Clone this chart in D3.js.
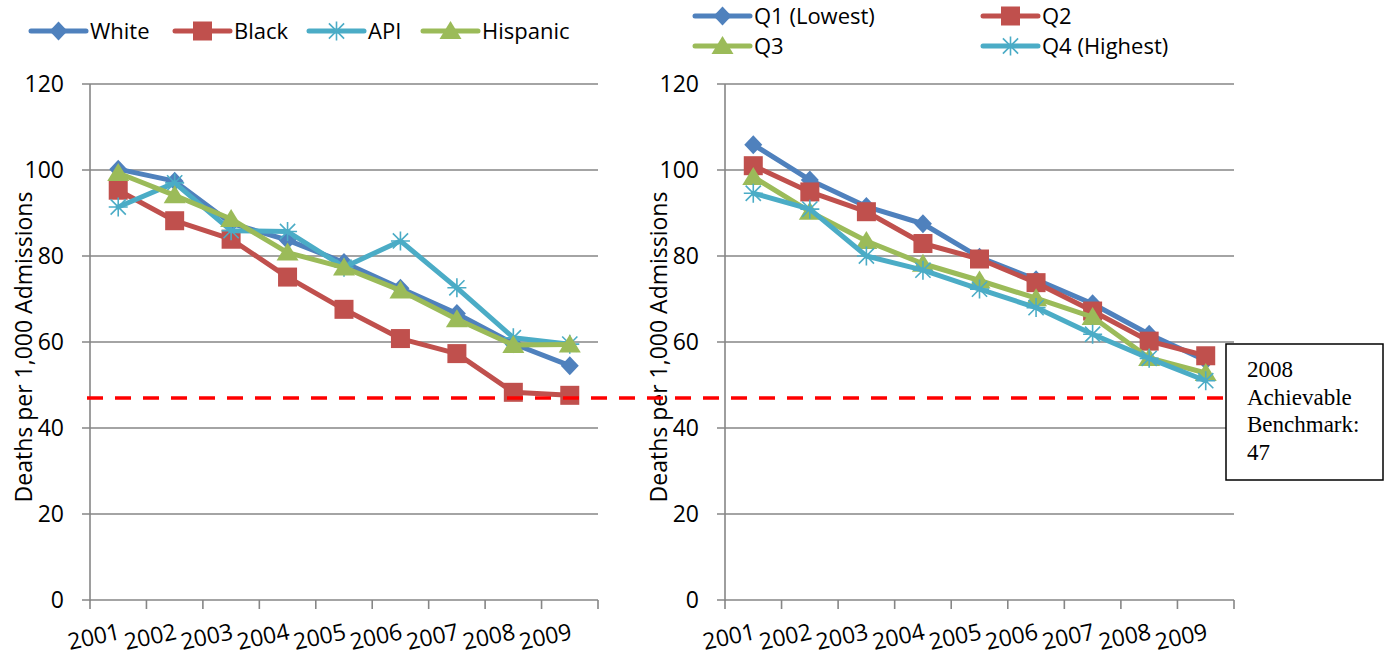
<!DOCTYPE html>
<html>
<head>
<meta charset="utf-8">
<script src="https://cdn.jsdelivr.net/npm/d3@7"></script>
<style>
  body { margin: 0; background: #fff; }
  svg { display: block; font-family: "Open Sans", sans-serif; }
</style>
</head>
<body>
<svg id="chart" width="1388" height="657"></svg>
<script>
// ---- data ----
const years = ["2001", "2002", "2003", "2004", "2005", "2006", "2007", "2008", "2009"];
const yTicks = [0, 20, 40, 60, 80, 100, 120];

const raceNames = ["White", "Black", "API", "Hispanic"];
const white    = [100.2, 97.4, 87.6, 83.7, 78.5, 72.5, 66.6, 59.6, 54.5];
const black    = [95.3, 88.2, 83.9, 75.1, 67.6, 60.8, 57.3, 48.3, 47.6];
const api      = [91.4, 97.0, 85.9, 85.7, 77.4, 83.5, 72.6, 61.0, 59.5];
const hispanic = [99.3, 94.1, 88.6, 80.8, 77.3, 72.0, 65.3, 59.3, 59.4];

const quartileNames = ["Q1 (Lowest)", "Q2", "Q3", "Q4 (Highest)"];
const q1 = [105.9, 97.7, 91.5, 87.5, 79.7, 74.5, 68.9, 61.8, 55.7];
const q2 = [101.0, 94.9, 90.3, 82.9, 79.3, 73.8, 67.2, 60.2, 56.8];
const q3 = [98.4, 90.3, 83.5, 78.2, 74.3, 70.2, 65.8, 56.3, 52.8];
const q4 = [94.6, 90.9, 80.0, 76.7, 72.3, 68.0, 61.8, 56.2, 51.0];

const benchmark = 47;
const benchmarkLines = ["2008", "Achievable", "Benchmark:", String(benchmark)];
const yTitle = "Deaths per 1,000 Admissions";

// ---- styling ----
const BLUE = "#4F81BD", RED = "#C0504D", AQUA = "#4BACC6", GREEN = "#9BBB59";
const GRID = "#868686";

const svg = d3.select("#chart");

const y = d3.scaleLinear().domain([0, 120]).range([600, 84]);

function marker(g, type, color) {
  if (type === "diamond") {
    g.append("path").attr("d", "M0,-9.5L9,0L0,9.5L-9,0Z").attr("fill", color);
  } else if (type === "square") {
    g.append("rect").attr("x", -9.5).attr("y", -9.5).attr("width", 19).attr("height", 19).attr("fill", color);
  } else if (type === "triangle") {
    g.append("path").attr("d", "M0,-10L11,8L-11,8Z").attr("fill", color);
  } else if (type === "star") {
    const s = 9.5;
    g.append("path")
      .attr("d", `M0,${-s}V${s}M${-s * 0.8},${-s * 0.8}L${s * 0.8},${s * 0.8}M${s * 0.8},${-s * 0.8}L${-s * 0.8},${s * 0.8}M${-s},0H${s}`)
      .attr("stroke", color).attr("stroke-width", 1.6).attr("fill", "none");
  }
}

function panel(x0, x1, series) {
  const x = d3.scaleBand().domain(years).range([x0, x1]).padding(0);
  const g = svg.append("g");

  // horizontal gridlines with outward ticks
  g.selectAll("line.grid").data(yTicks).join("line")
    .attr("x1", x0 - 8).attr("x2", x1)
    .attr("y1", d => y(d)).attr("y2", d => y(d))
    .attr("stroke", GRID).attr("stroke-width", 1.6);

  // vertical axis
  g.append("line").attr("x1", x0).attr("x2", x0).attr("y1", y(120)).attr("y2", y(0) + 1)
    .attr("stroke", GRID).attr("stroke-width", 1.6);

  // category tick marks
  const bounds = years.map(d => x(d)).concat([x1]);
  g.selectAll("line.xt").data(bounds).join("line")
    .attr("x1", d => d).attr("x2", d => d)
    .attr("y1", y(0)).attr("y2", y(0) + 9)
    .attr("stroke", GRID).attr("stroke-width", 1.6);

  // y tick labels
  g.selectAll("text.yl").data(yTicks).join("text")
    .attr("x", x0 - 26).attr("y", d => y(d)).attr("dy", "0.36em")
    .attr("text-anchor", "end").attr("font-size", 23).attr("fill", "#000")
    .text(d => d);

  // x tick labels, slightly rotated
  g.selectAll("text.xl").data(years).join("text")
    .attr("transform", d => `translate(${x(d) + x.bandwidth() / 2 + 3},639) rotate(-12)`)
    .attr("text-anchor", "end").attr("font-size", 23).attr("fill", "#000")
    .text(d => d);

  // y axis title
  g.append("text")
    .attr("transform", `translate(${x0 - 58},${(y(0) + y(120)) / 2 + 5}) rotate(-90)`)
    .attr("text-anchor", "middle").attr("font-size", 23).attr("fill", "#000")
    .text(yTitle);

  const line = d3.line().x((d, i) => x(years[i]) + x.bandwidth() / 2).y(d => y(d));

  series.forEach(s => {
    g.append("path").datum(s.values).attr("d", line)
      .attr("fill", "none").attr("stroke", s.color).attr("stroke-width", 5)
      .attr("stroke-linejoin", "round").attr("stroke-linecap", "round");
    s.values.forEach((v, i) => {
      const m = g.append("g").attr("transform", `translate(${x(years[i]) + x.bandwidth() / 2},${y(v)})`);
      marker(m, s.marker, s.color);
    });
  });
  return x;
}

function legendItem(lx, ly, s) {
  const g = svg.append("g");
  g.append("line").attr("x1", lx).attr("x2", lx + 55).attr("y1", ly).attr("y2", ly)
    .attr("stroke", s.color).attr("stroke-width", 5).attr("stroke-linecap", "round");
  const m = g.append("g").attr("transform", `translate(${lx + 27.5},${ly})`);
  marker(m, s.marker, s.color);
  g.append("text").attr("x", lx + 59).attr("y", ly).attr("dy", "0.36em")
    .attr("font-size", 22).attr("fill", "#000").text(s.name);
}

const raceSeries = [
  { name: raceNames[0], values: white, color: BLUE, marker: "diamond" },
  { name: raceNames[1], values: black, color: RED, marker: "square" },
  { name: raceNames[2], values: api, color: AQUA, marker: "star" },
  { name: raceNames[3], values: hispanic, color: GREEN, marker: "triangle" }
];
const quartileSeries = [
  { name: quartileNames[0], values: q1, color: BLUE, marker: "diamond" },
  { name: quartileNames[1], values: q2, color: RED, marker: "square" },
  { name: quartileNames[2], values: q3, color: GREEN, marker: "triangle" },
  { name: quartileNames[3], values: q4, color: AQUA, marker: "star" }
];

panel(90, 598, raceSeries);
panel(725, 1234, quartileSeries);

// legends
[31, 175, 309, 423].forEach((lx, i) => legendItem(lx, 31, raceSeries[i]));
legendItem(695, 16, quartileSeries[0]);
legendItem(983, 16, quartileSeries[1]);
legendItem(695, 46, quartileSeries[2]);
legendItem(983, 46, quartileSeries[3]);

// benchmark reference line across both panels
svg.append("line")
  .attr("x1", 87).attr("x2", 1226)
  .attr("y1", y(benchmark)).attr("y2", y(benchmark))
  .attr("stroke", "#FF0000").attr("stroke-width", 3.5)
  .attr("stroke-dasharray", "16,12");

// benchmark note box
const box = svg.append("g");
box.append("rect").attr("x", 1226).attr("y", 344).attr("width", 157).attr("height", 136)
  .attr("fill", "#fff").attr("stroke", "#000").attr("stroke-width", 1.5);
box.selectAll("text").data(benchmarkLines).join("text")
  .attr("x", 1247).attr("y", (d, i) => 377 + i * 27.5)
  .attr("font-family", "'Liberation Serif', 'Times New Roman', serif")
  .attr("font-size", 23).attr("fill", "#000")
  .text(d => d);
</script>
</body>
</html>
